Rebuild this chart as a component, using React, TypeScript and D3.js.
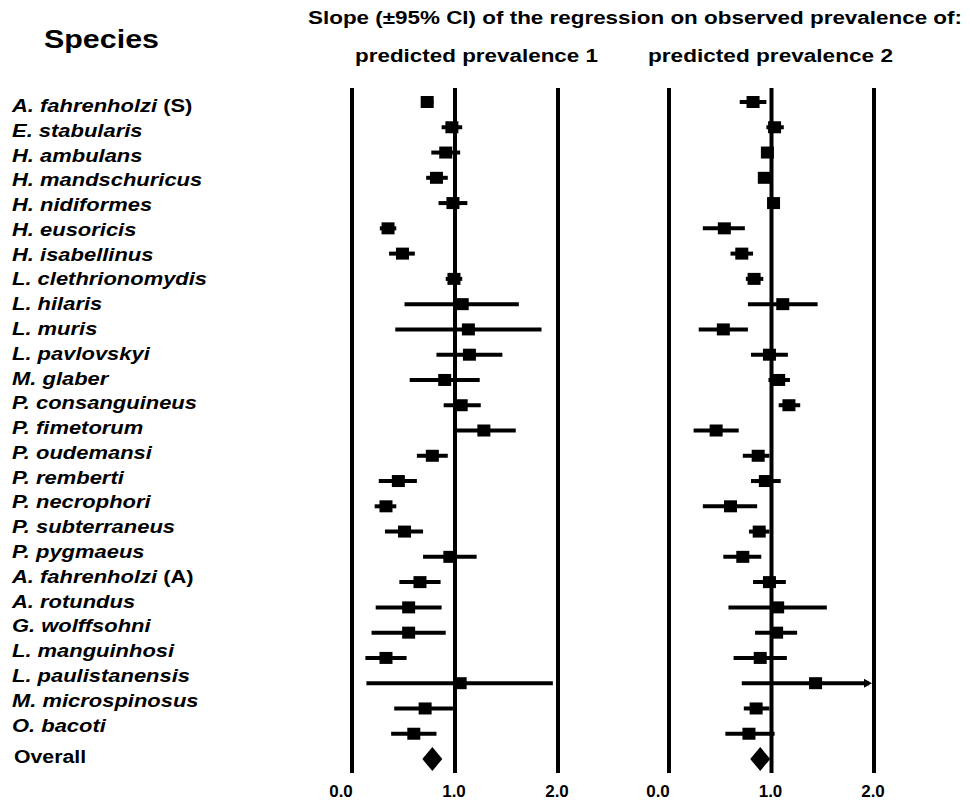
import React, { useEffect, useRef } from 'react'
import * as d3 from 'd3'

// species in plotting order (italic binomial, optional plain suffix in brackets)
const species = [
  "A. fahrenholzi (S)", "E. stabularis", "H. ambulans", "H. mandschuricus", "H. nidiformes",
  "H. eusoricis", "H. isabellinus", "L. clethrionomydis", "L. hilaris", "L. muris",
  "L. pavlovskyi", "M. glaber", "P. consanguineus", "P. fimetorum", "P. oudemansi",
  "P. remberti", "P. necrophori", "P. subterraneus", "P. pygmaeus", "A. fahrenholzi (A)",
  "A. rotundus", "G. wolffsohni", "L. manguinhosi", "L. paulistanensis", "M. microspinosus",
  "O. bacoti"
]

// predicted prevalence 1
const slope1 = [0.73, 0.97, 0.91, 0.82, 0.98, 0.35, 0.49, 0.99, 1.07, 1.13, 1.14, 0.90, 1.06, 1.28, 0.78, 0.45, 0.33, 0.51, 0.95, 0.66, 0.55, 0.55, 0.33, 1.05, 0.71, 0.60]
const lower1 = [0.68, 0.87, 0.77, 0.72, 0.84, 0.27, 0.36, 0.91, 0.51, 0.42, 0.82, 0.56, 0.89, 1.01, 0.63, 0.26, 0.22, 0.32, 0.69, 0.46, 0.23, 0.19, 0.13, 0.14, 0.41, 0.38]
const upper1 = [0.79, 1.07, 1.05, 0.93, 1.12, 0.43, 0.61, 1.07, 1.62, 1.84, 1.46, 1.24, 1.25, 1.59, 0.93, 0.63, 0.43, 0.69, 1.21, 0.86, 0.87, 0.91, 0.53, 1.95, 0.98, 0.82]

// predicted prevalence 2
const slope2 = [0.82, 1.03, 0.96, 0.93, 1.02, 0.54, 0.71, 0.83, 1.11, 0.53, 0.98, 1.07, 1.17, 0.46, 0.87, 0.94, 0.60, 0.88, 0.72, 0.98, 1.06, 1.05, 0.89, 1.43, 0.85, 0.78]
const lower2 = [0.69, 0.95, 0.93, 0.89, 0.96, 0.33, 0.60, 0.75, 0.77, 0.29, 0.80, 0.97, 1.07, 0.24, 0.72, 0.80, 0.33, 0.78, 0.53, 0.82, 0.58, 0.84, 0.63, 0.71, 0.73, 0.55]
const upper2 = [0.95, 1.12, 0.99, 0.98, 1.08, 0.74, 0.82, 0.92, 1.45, 0.77, 1.16, 1.18, 1.28, 0.68, 0.98, 1.09, 0.86, 0.98, 0.90, 1.14, 1.54, 1.25, 1.15, 2.30, 0.98, 1.03]

const overallSlope = [0.78, 0.89]
const tickValues = [0, 1, 2]
const tickLabels = ["0.0", "1.0", "2.0"]
const panelTitles = ["predicted prevalence 1", "predicted prevalence 2"]

const FONT = "'Liberation Sans', Arial, sans-serif"

function App() {
  const svgRef = useRef<SVGSVGElement>(null)

  useEffect(() => {
    const svg = d3.select(svgRef.current)
    svg.selectAll("*").remove()

    const rows = [...species, "Overall"]
    const y = d3.scalePoint().domain(rows).range([102, 759])
    const yLabel = d3.scalePoint().domain(species).range([106, 725.5])

    const panels = [
      { x: d3.scaleLinear().domain([0, 2]).range([352, 558]), est: slope1, lo: lower1, hi: upper1, overall: overallSlope[0], title: panelTitles[0], titleX: 355, titleW: 243 },
      { x: d3.scaleLinear().domain([0, 2]).range([669, 874]), est: slope2, lo: lower2, hi: upper2, overall: overallSlope[1], title: panelTitles[1], titleX: 648, titleW: 245 }
    ]

    // headers
    svg.append("text").text("Species")
      .attr("x", 44).attr("y", 48).attr("font-size", 25).attr("font-weight", "bold")
      .attr("textLength", 115).attr("lengthAdjust", "spacingAndGlyphs")
    svg.append("text").text("Slope (\u00b195% CI) of the regression on observed prevalence of:")
      .attr("x", 308).attr("y", 24).attr("font-size", 18).attr("font-weight", "bold")
      .attr("textLength", 654).attr("lengthAdjust", "spacingAndGlyphs")

    // species labels
    const labels = svg.append("g").attr("font-size", 18).attr("font-weight", "bold")
    species.forEach(s => {
      const m = s.match(/^(.*?)( \(.*\))?$/)
      const t = labels.append("text")
        .attr("transform", `translate(12, ${(yLabel(s) as number) + 6}) scale(1.22, 1)`)
      t.append("tspan").attr("font-style", "italic").text(m ? m[1] : s)
      if (m && m[2]) t.append("tspan").text(m[2])
    })
    svg.append("text").text("Overall")
      .attr("transform", `translate(14, 763) scale(1.12, 1)`)
      .attr("font-size", 19).attr("font-weight", "bold")

    panels.forEach(p => {
      const g = svg.append("g")
      const [xmin, xmax] = p.x.domain()

      g.append("text").text(p.title)
        .attr("x", p.titleX).attr("y", 62).attr("font-size", 18).attr("font-weight", "bold")
        .attr("textLength", p.titleW).attr("lengthAdjust", "spacingAndGlyphs")

      // reference lines
      g.selectAll(".vline").data(tickValues).join("line")
        .attr("x1", d => p.x(d)).attr("x2", d => p.x(d))
        .attr("y1", 88).attr("y2", 773)
        .attr("stroke", "black").attr("stroke-width", 4)

      g.selectAll(".tick").data(tickValues).join("text")
        .text((d, i) => tickLabels[i])
        .attr("x", d => p.x(d) + (d === xmin ? -11 : -1))
        .attr("y", 797)
        .attr("text-anchor", "middle")
        .attr("font-size", 17).attr("font-weight", "bold")

      // confidence intervals
      g.selectAll(".ci").data(species).join("line")
        .attr("x1", (d, i) => p.x(Math.max(xmin, p.lo[i])))
        .attr("x2", (d, i) => p.hi[i] > xmax ? p.x(xmax) - 5 : p.x(p.hi[i]))
        .attr("y1", d => y(d) as number).attr("y2", d => y(d) as number)
        .attr("stroke", "black").attr("stroke-width", 4)

      // arrow where the interval runs past the axis
      g.selectAll(".arrow").data(species.filter((d, i) => p.hi[i] > xmax)).join("path")
        .attr("d", d => {
          const yy = y(d) as number
          const xe = p.x(xmax) - 2
          return `M${xe - 8},${yy - 4.5}L${xe},${yy}L${xe - 8},${yy + 4.5}Z`
        })
        .attr("fill", "black")

      // slope estimates
      g.selectAll(".pt").data(species).join("rect")
        .attr("x", (d, i) => p.x(p.est[i]) - 6.5)
        .attr("y", d => (y(d) as number) - 6)
        .attr("width", 13).attr("height", 12)
        .attr("fill", "black")

      // overall diamond
      const oy = y("Overall") as number
      const ox = p.x(p.overall)
      g.append("path")
        .attr("d", `M${ox},${oy - 12}L${ox + 10},${oy}L${ox},${oy + 12}L${ox - 10},${oy}Z`)
        .attr("fill", "black")
    })
  }, [])

  return (
    <svg ref={svgRef} width={970} height={802}
      style={{ position: 'absolute', left: 0, top: 0, background: 'white', fontFamily: FONT }} />
  )
}

export default App
